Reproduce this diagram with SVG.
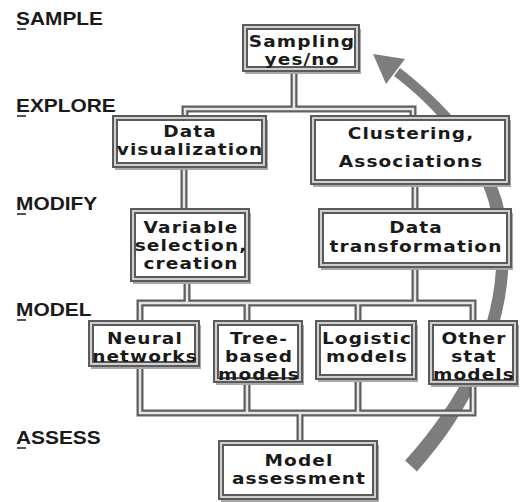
<svg xmlns="http://www.w3.org/2000/svg" width="526" height="502" viewBox="0 0 526 502">
<style>
.lbl{font-family:"Liberation Sans",Arial,sans-serif;font-weight:bold;font-size:18.5px;fill:#1a1a1a}
.ul{stroke:#555;stroke-width:2}
.t{font-family:"DejaVu Sans","Liberation Sans",sans-serif;font-weight:bold;font-size:15.2px;fill:#1a1a1a;text-anchor:middle;letter-spacing:0.9px}
.bx{fill:#fff;stroke:#5a5a5a;stroke-width:6}
.bxi{fill:none;stroke:#cfcfcf;stroke-width:2}
.sh{fill:#a8a8a8}
.po{fill:none;stroke:#5e5e5e;stroke-width:7;stroke-linejoin:miter}
.pi{fill:none;stroke:#e6e6e6;stroke-width:2.5;stroke-linejoin:miter}
.arc{fill:#7d7d7d}
</style>
<rect width="526" height="502" fill="#fff"/>
<g id="labels">
<text class="lbl" transform="translate(16,25) scale(1.13,1)">SAMPLE</text><line class="ul" x1="17" y1="29" x2="26" y2="29"/>
<text class="lbl" transform="translate(16,112) scale(1.13,1)">EXPLORE</text><line class="ul" x1="17" y1="116" x2="26" y2="116"/>
<text class="lbl" transform="translate(16,210) scale(1.13,1)">MODIFY</text><line class="ul" x1="17" y1="214" x2="26" y2="214"/>
<text class="lbl" transform="translate(16,316) scale(1.13,1)">MODEL</text><line class="ul" x1="17" y1="320" x2="26" y2="320"/>
<text class="lbl" transform="translate(16,444) scale(1.13,1)">ASSESS</text><line class="ul" x1="17" y1="448" x2="26" y2="448"/>
</g>
<g id="cycle-arrow">
<path class="arc" d="M416.9,471.4 C485.9,395.4 526.3,288.3 501.3,198.3 C486.2,148.1 443,101 400,68 L394,76 C437,109 473.8,151.9 488.7,201.7 C513.7,291.7 474.1,384.6 405.1,460.6 Z"/>
<polygon class="arc" points="373,54 405,59 386,84"/>
</g>
<g id="connectors">
<path class="po" d="M294,72 V109 M185,115 V109 H413 V115 M184,168 V208 M415,185 V208 M187,282 V303 M415,268 V303 M140,320 V303 H473 V320 M247,303 V320 M358,303 V320 M140,367 V413 H473 V385 M247,383 V413 M358,380 V413 M300,413 V440"/>
<path class="pi" d="M294,72 V109 M185,115 V109 H413 V115 M184,168 V208 M415,185 V208 M187,282 V303 M415,268 V303 M140,320 V303 H473 V320 M247,303 V320 M358,303 V320 M140,367 V413 H473 V385 M247,383 V413 M358,380 V413 M300,413 V440"/>
</g>
<g id="n-sampling"><rect class="sh" x="245" y="29" width="116" height="45"/><rect class="bx" x="245" y="27" width="112" height="42"/><rect class="bxi" x="245" y="27" width="112" height="42"/><text class="t" transform="translate(302,47) scale(1.22,1)">Sampling</text><text class="t" transform="translate(302,65) scale(1.22,1)">yes/no</text></g>
<g id="n-dataviz"><rect class="sh" x="115" y="120" width="153" height="50"/><rect class="bx" x="115" y="118" width="149" height="47"/><rect class="bxi" x="115" y="118" width="149" height="47"/><text class="t" transform="translate(190,137) scale(1.22,1)">Data</text><text class="t" transform="translate(190,155) scale(1.22,1)">visualization</text></g>
<g id="n-clustering"><rect class="sh" x="313" y="120" width="198" height="67"/><rect class="bx" x="313" y="118" width="194" height="64"/><rect class="bxi" x="313" y="118" width="194" height="64"/><text class="t" transform="translate(411,139) scale(1.22,1)">Clustering,</text><text class="t" transform="translate(411,167) scale(1.22,1)">Associations</text></g>
<g id="n-variable"><rect class="sh" x="133" y="213" width="118" height="71"/><rect class="bx" x="133" y="211" width="114" height="68"/><rect class="bxi" x="133" y="211" width="114" height="68"/><text class="t" transform="translate(191,233) scale(1.22,1)">Variable</text><text class="t" transform="translate(191,251) scale(1.22,1)">selection,</text><text class="t" transform="translate(191,269) scale(1.22,1)">creation</text></g>
<g id="n-transform"><rect class="sh" x="321" y="213" width="192" height="57"/><rect class="bx" x="321" y="211" width="188" height="54"/><rect class="bxi" x="321" y="211" width="188" height="54"/><text class="t" transform="translate(416,233) scale(1.22,1)">Data</text><text class="t" transform="translate(416,252) scale(1.22,1)">transformation</text></g>
<g id="n-neural"><rect class="sh" x="91" y="325" width="110" height="44"/><rect class="bx" x="91" y="323" width="106" height="41"/><rect class="bxi" x="91" y="323" width="106" height="41"/><text class="t" transform="translate(145,344) scale(1.22,1)">Neural</text><text class="t" transform="translate(145,362) scale(1.22,1)">networks</text></g>
<g id="n-tree"><rect class="sh" x="216" y="325" width="88" height="60"/><rect class="bx" x="216" y="323" width="84" height="57"/><rect class="bxi" x="216" y="323" width="84" height="57"/><text class="t" transform="translate(259,344) scale(1.22,1)">Tree-</text><text class="t" transform="translate(259,362) scale(1.22,1)">based</text><text class="t" transform="translate(259,380) scale(1.22,1)">models</text></g>
<g id="n-logistic"><rect class="sh" x="318" y="325" width="100" height="57"/><rect class="bx" x="318" y="323" width="96" height="54"/><rect class="bxi" x="318" y="323" width="96" height="54"/><text class="t" transform="translate(367,344) scale(1.22,1)">Logistic</text><text class="t" transform="translate(367,362) scale(1.22,1)">models</text></g>
<g id="n-other"><rect class="sh" x="431" y="325" width="88" height="62"/><rect class="bx" x="431" y="323" width="84" height="59"/><rect class="bxi" x="431" y="323" width="84" height="59"/><text class="t" transform="translate(474,344) scale(1.22,1)">Other</text><text class="t" transform="translate(474,362) scale(1.22,1)">stat</text><text class="t" transform="translate(474,380) scale(1.22,1)">models</text></g>
<g id="n-assess"><rect class="sh" x="221" y="445" width="158" height="57"/><rect class="bx" x="221" y="443" width="154" height="54"/><rect class="bxi" x="221" y="443" width="154" height="54"/><text class="t" transform="translate(299,466) scale(1.22,1)">Model</text><text class="t" transform="translate(299,484) scale(1.22,1)">assessment</text></g>
</svg>
